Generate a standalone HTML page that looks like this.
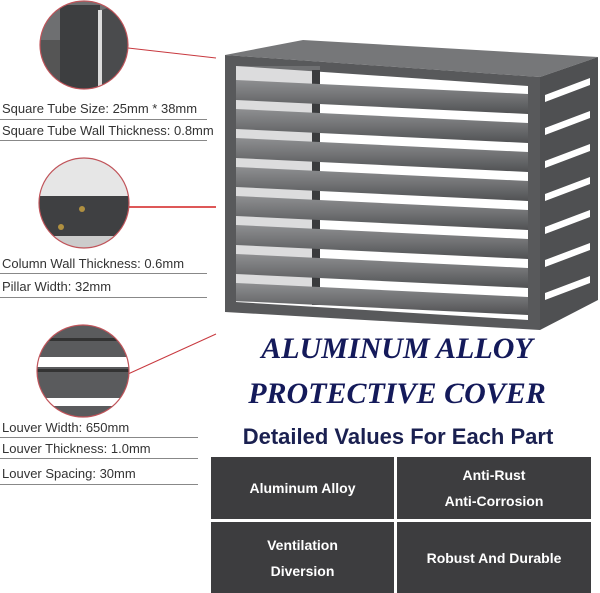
<!DOCTYPE html>
<html><head><meta charset="utf-8"><style>
html,body{margin:0;padding:0;background:#fff;}
body{width:600px;height:593px;position:relative;overflow:hidden;font-family:"Liberation Sans",sans-serif;}
.t{position:absolute;left:2px;font-size:13px;color:#333;white-space:nowrap;}
.u{position:absolute;left:0;height:1px;background:#888;}
.box{position:absolute;background:#3d3d3f;color:#fff;font-weight:bold;font-size:14px;display:flex;align-items:center;justify-content:center;text-align:center;line-height:26px;}
.title{position:absolute;left:200px;width:394px;text-align:center;font-family:"Liberation Serif",serif;font-style:italic;font-weight:bold;color:#141a5a;font-size:30px;white-space:nowrap;}
</style></head><body>
<svg width="600" height="593" style="position:absolute;left:0;top:0">
<defs>
<linearGradient id="bar" x1="0" y1="0" x2="0" y2="1"><stop offset="0" stop-color="#8e8f91"/><stop offset="0.5" stop-color="#717274"/><stop offset="1" stop-color="#505153"/></linearGradient>
<clipPath id="c1"><circle cx="84" cy="45" r="44"/></clipPath>
<clipPath id="c2"><circle cx="84" cy="203" r="45"/></clipPath>
<clipPath id="c3"><circle cx="83" cy="371" r="46"/></clipPath>
</defs>
<line x1="128" y1="48" x2="216" y2="58" stroke="#c8393f" stroke-width="1"/>
<line x1="128" y1="207" x2="216" y2="207" stroke="#d42020" stroke-width="1.5"/>
<line x1="128" y1="374" x2="216" y2="334" stroke="#c8393f" stroke-width="1"/>
<g clip-path="url(#c1)">
<rect x="38" y="0" width="92" height="92" fill="#6e6f71"/>
<rect x="40" y="40" width="22" height="50" fill="#555"/>
<polygon points="60,5 100,5 100,90 60,90" fill="#3d3e40"/>
<rect x="98" y="10" width="4" height="80" fill="#ddd"/>
<polygon points="102,10 128,0 128,92 102,92" fill="#4a4b4d"/>
</g>
<circle cx="84" cy="45" r="44" fill="none" stroke="#c0545a" stroke-width="1.2"/>
<g clip-path="url(#c2)">
<rect x="38" y="158" width="92" height="92" fill="#e6e6e6"/>
<rect x="38" y="196" width="92" height="40" fill="#3f4042"/>
<rect x="38" y="236" width="92" height="14" fill="#ccc"/>
<circle cx="82" cy="209" r="3" fill="#b09040"/><circle cx="61" cy="227" r="3" fill="#b09040"/>
</g>
<circle cx="84" cy="203" r="45" fill="none" stroke="#c0545a" stroke-width="1.2"/>
<g clip-path="url(#c3)">
<rect x="36" y="324" width="94" height="94" fill="#5a5b5d"/>
<rect x="36" y="357" width="94" height="10" fill="#fff"/>
<rect x="36" y="398" width="94" height="8" fill="#fff"/>
<rect x="36" y="369" width="94" height="3" fill="#333"/>
<rect x="36" y="338" width="94" height="3" fill="#333"/>
</g>
<circle cx="83" cy="371" r="46" fill="none" stroke="#c0545a" stroke-width="1.2"/>
<polygon points="225,55 303,40 598,57 540,77" fill="#767779"/>
<polygon points="540,77 598,57 598,300 540,330" fill="#4f5052"/>
<g fill="#fff">
<polygon points="545,95 590,78 590,85 545,102"/>
<polygon points="545,128 590,111 590,118 545,135"/>
<polygon points="545,161 590,144 590,151 545,168"/>
<polygon points="545,194 590,177 590,184 545,201"/>
<polygon points="545,227 590,210 590,217 545,234"/>
<polygon points="545,260 590,243 590,250 545,267"/>
<polygon points="545,293 590,276 590,283 545,300"/>
</g>
<polygon points="225,55 540,77 540,330 225,312" fill="#58595b"/>
<polygon points="236,66 528,86 528,320 236,302" fill="#fff"/>
<rect x="236" y="66" width="84" height="236" fill="#9a9b9d" opacity="0.35"/>
<rect x="312" y="70" width="8" height="235" fill="#3a3b3d"/>
<g fill="url(#bar)">
<polygon points="236,80 528,94 528,114 236,100"/>
<polygon points="236,109 528,123 528,143 236,129"/>
<polygon points="236,138 528,152 528,172 236,158"/>
<polygon points="236,167 528,181 528,201 236,187"/>
<polygon points="236,196 528,210 528,230 236,216"/>
<polygon points="236,225 528,239 528,259 236,245"/>
<polygon points="236,254 528,268 528,288 236,274"/>
<polygon points="236,283 528,297 528,315 236,301"/>
</g>
</svg>
<div class="t" style="top:101px">Square Tube Size: 25mm * 38mm</div><div class="u" style="top:119px;width:207px"></div>
<div class="t" style="top:123px">Square Tube Wall Thickness: 0.8mm</div><div class="u" style="top:140px;width:207px"></div>
<div class="t" style="top:256px">Column Wall Thickness: 0.6mm</div><div class="u" style="top:273px;width:207px"></div>
<div class="t" style="top:279px">Pillar Width: 32mm</div><div class="u" style="top:297px;width:207px"></div>
<div class="t" style="top:420px">Louver Width: 650mm</div><div class="u" style="top:437px;width:198px"></div>
<div class="t" style="top:441px">Louver Thickness: 1.0mm</div><div class="u" style="top:458px;width:198px"></div>
<div class="t" style="top:466px">Louver Spacing: 30mm</div><div class="u" style="top:484px;width:198px"></div>
<div class="title" style="top:332px">ALUMINUM ALLOY</div>
<div class="title" style="top:377px">PROTECTIVE COVER</div>
<div style="position:absolute;left:200px;width:396px;top:424px;text-align:center;font-weight:bold;font-size:22px;color:#1a2050;">Detailed Values For Each Part</div>
<div class="box" style="left:211px;top:457px;width:183px;height:62px">Aluminum Alloy</div>
<div class="box" style="left:397px;top:457px;width:194px;height:62px">Anti-Rust<br>Anti-Corrosion</div>
<div class="box" style="left:211px;top:522px;width:183px;height:71px">Ventilation<br>Diversion</div>
<div class="box" style="left:397px;top:522px;width:194px;height:71px">Robust And Durable</div>
</body></html>
